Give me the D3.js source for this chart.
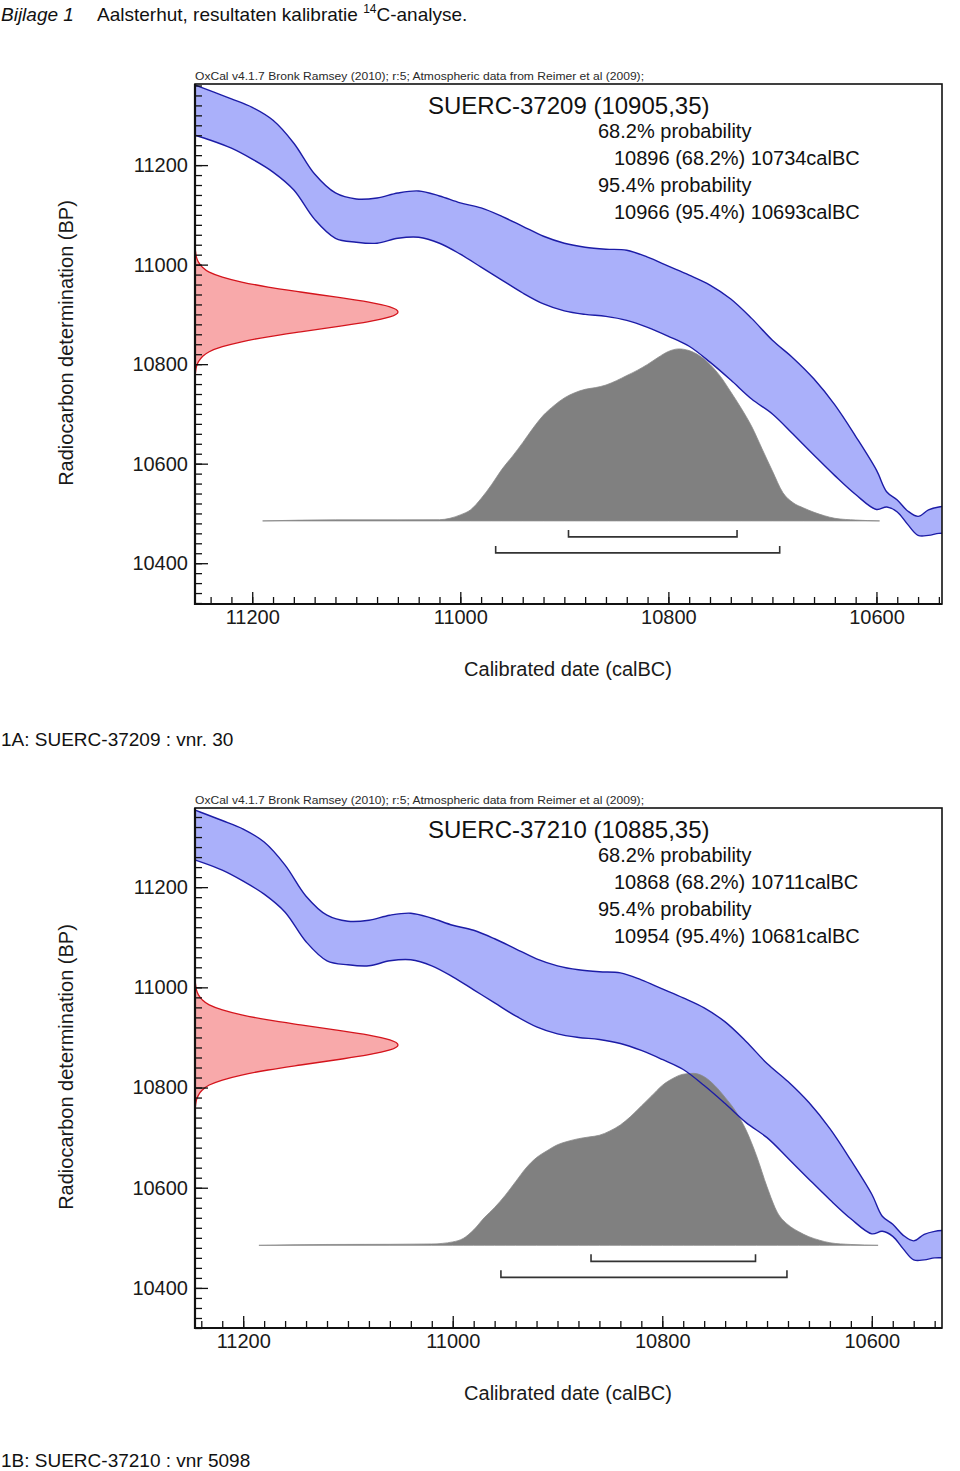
<!DOCTYPE html>
<html><head><meta charset="utf-8">
<script src="https://cdn.jsdelivr.net/npm/d3@7"></script>
<style>
body{margin:0;background:#fff}
svg{display:block}
text{font-family:"Liberation Sans",Arial,Helvetica,sans-serif}
</style>
</head><body><svg id="c" width="960" height="1471"></svg>
<script>
// ---------- DATA ----------
// IntCal09 calibration curve band (calBC, upper / lower BP edge)
const curveCalBC = [11255,11240,11220,11200,11180,11160,11140,11120,11100,11080,11060,11040,11020,11000,10980,10960,10940,10920,10900,10880,10860,10840,10820,10800,10780,10760,10740,10720,10700,10680,10660,10640,10620,10600,10590,10580,10570,10560,10550,10540,10530];
const curveUpperBP = [11361,11349,11333,11316,11290,11244,11182,11144,11132,11134,11144,11148,11138,11124,11114,11097,11077,11057,11043,11035,11031,11029,11015,10997,10979,10959,10931,10892,10848,10812,10770,10718,10655,10587,10543,10527,10505,10494,10507,10513,10515];
const curveLowerBP = [11260,11250,11234,11212,11186,11150,11091,11053,11045,11043,11053,11055,11043,11021,10995,10969,10943,10921,10907,10900,10896,10888,10874,10856,10836,10804,10768,10730,10700,10659,10617,10576,10538,10508,10513,10503,10478,10456,10456,10460,10460];

// Radiocarbon measurement (red) : offset from mean (BP) and relative density
const redOffset  = [-130,-120,-110,-100,-90,-80,-70,-60,-50,-40,-30,-20,-10,0,10,20,30,40,50,60,70,80,90,100,110,120,130];
const redDensity = [0,0.003,0.007,0.017,0.036,0.07,0.135,0.23,0.36,0.52,0.69,0.85,0.96,1,0.96,0.85,0.69,0.52,0.36,0.23,0.135,0.07,0.036,0.017,0.007,0.003,0];

// Calibrated distribution SUERC-37209
const cal1Years = [11190,11120,11060,11020,11010,11000,10990,10980,10970,10960,10950,10940,10930,10920,10910,10900,10890,10880,10870,10860,10850,10840,10830,10820,10810,10800,10790,10780,10770,10760,10750,10740,10730,10720,10710,10700,10690,10680,10670,10660,10650,10640,10620,10597];
const cal1Prob  = [0,0.006,0.006,0.007,0.015,0.035,0.065,0.13,0.21,0.30,0.375,0.455,0.54,0.615,0.67,0.715,0.745,0.765,0.775,0.79,0.815,0.845,0.875,0.91,0.95,0.985,1,0.99,0.96,0.91,0.84,0.75,0.655,0.55,0.42,0.29,0.165,0.105,0.075,0.05,0.03,0.015,0.005,0];
// Calibrated distribution SUERC-37210
const cal2Years = [11185,11120,11060,11020,11000,10990,10980,10970,10960,10950,10940,10930,10920,10910,10900,10890,10880,10870,10860,10850,10840,10830,10820,10810,10800,10790,10780,10770,10760,10750,10740,10730,10720,10710,10700,10690,10680,10670,10660,10650,10640,10620,10594];
const cal2Prob  = [0,0.005,0.006,0.008,0.02,0.04,0.09,0.16,0.22,0.29,0.37,0.45,0.51,0.55,0.585,0.605,0.62,0.63,0.64,0.665,0.70,0.75,0.81,0.87,0.93,0.97,0.995,1,0.98,0.93,0.86,0.78,0.67,0.52,0.34,0.19,0.12,0.08,0.05,0.03,0.015,0.005,0];

// Samples
const sampleNames = ["SUERC-37209","SUERC-37210"];
const sampleBP    = [10905,10885];
const sampleErr   = [35,35];
const range68     = [[10896,10734],[10868,10711]];
const range95     = [[10966,10693],[10954,10681]];
const captions    = ["1A: SUERC-37209 : vnr. 30","1B: SUERC-37210 : vnr 5098"];

// Axis ticks
const yTickValues = [10400,10600,10800,11000,11200];
const xTickValues = [11200,11000,10800,10600];

const oxcalNote = "OxCal v4.1.7 Bronk Ramsey (2010); r:5; Atmospheric data from Reimer et al (2009);";

// ---------- DRAW ----------
const svg = d3.select("#c");

const hdr = svg.append("text").attr("x",1).attr("y",21).attr("font-size",19).attr("fill","#111");
hdr.append("tspan").attr("font-style","italic").text("Bijlage 1");
hdr.append("tspan").attr("x",97).text("Aalsterhut, resultaten kalibratie ");
hdr.append("tspan").attr("font-size",12).attr("dy",-8).text("14");
hdr.append("tspan").attr("dy",8).text("C-analyse.");

function drawChart(i, top, xDomain, yDomain, calYears, calProb, capY) {
  const L = 195, R = 942, T = top, B = top + 520;
  const x = d3.scaleLinear().domain(xDomain).range([L, R]);
  const y = d3.scaleLinear().domain(yDomain).range([B, T]);
  const g = svg.append("g");

  const clipId = "clip" + i;
  svg.append("clipPath").attr("id", clipId).append("rect")
    .attr("x", L).attr("y", T).attr("width", R - L).attr("height", B - T);
  const plot = g.append("g").attr("clip-path", `url(#${clipId})`);

  g.append("text").attr("x", L).attr("y", T - 4).attr("font-size", 11.5).attr("fill", "#2a2a2a")
    .attr("textLength", 449).attr("lengthAdjust", "spacingAndGlyphs").text(oxcalNote);

  // calibration band
  const band = curveCalBC.map((c, k) => ({c, hi: curveUpperBP[k], lo: curveLowerBP[k]}));
  const cv = d3.curveCatmullRom.alpha(0.5);
  plot.append("path").datum(band)
    .attr("d", d3.area().x(d => x(d.c)).y0(d => y(d.lo)).y1(d => y(d.hi)).curve(cv))
    .attr("fill", "#aab0fa");

  // calibrated distribution
  const baseBP = 10485;
  const yBase = y(baseBP);
  const pScale = d3.scaleLinear().domain([0, 1]).range([yBase, yBase - 172]);
  const dist = calYears.map((c, k) => ({c, p: calProb[k]}));
  plot.append("path").datum(dist)
    .attr("d", d3.area().x(d => x(d.c)).y0(yBase).y1(d => pScale(d.p)).curve(d3.curveMonotoneX))
    .attr("fill", "#808080").attr("stroke", "#8a8a8a").attr("stroke-width", 0.8);

  // band edges
  ["hi", "lo"].forEach(k => {
    plot.append("path").datum(band)
      .attr("d", d3.line().x(d => x(d.c)).y(d => y(d[k])).curve(cv))
      .attr("fill", "none").attr("stroke", "#1c1ca6").attr("stroke-width", 1.4);
  });

  // radiocarbon measurement
  const wScale = d3.scaleLinear().domain([0, 1]).range([L, 398]);
  const red = redOffset.map((o, k) => ({bp: sampleBP[i] + o, p: redDensity[k]}));
  plot.append("path").datum(red)
    .attr("d", d3.area().y(d => y(d.bp)).x0(L).x1(d => wScale(d.p)).curve(d3.curveMonotoneY))
    .attr("fill", "#f8a9aa").attr("stroke", "none");
  plot.append("path").datum(red)
    .attr("d", d3.line().y(d => y(d.bp)).x(d => wScale(d.p)).curve(d3.curveMonotoneY))
    .attr("fill", "none").attr("stroke", "#d4141c").attr("stroke-width", 1.3);

  // range brackets
  [[range68[i], 16], [range95[i], 32]].forEach(([r, off]) => {
    const yb = yBase + off;
    g.append("path")
      .attr("d", `M${x(r[0])},${yb - 7}V${yb}H${x(r[1])}V${yb - 7}`)
      .attr("fill", "none").attr("stroke", "#333").attr("stroke-width", 1.6);
  });

  // axes
  const yMinor = d3.range(10320, 11361, 20).filter(v => v >= yDomain[0] && v <= yDomain[1]);
  const xMinor = d3.range(10540, 11261, 20).filter(v => v <= xDomain[0] && v >= xDomain[1]);
  const yAx = g.append("g").attr("transform", `translate(${L},0)`);
  yAx.append("g").call(d3.axisLeft(y).tickValues(yMinor).tickSize(-7).tickFormat(""));
  yAx.append("g").call(d3.axisLeft(y).tickValues(yTickValues).tickSize(-13).tickPadding(7).tickFormat(d3.format("d")));
  const xAx = g.append("g").attr("transform", `translate(0,${B})`);
  xAx.append("g").call(d3.axisBottom(x).tickValues(xMinor).tickSize(-7).tickFormat(""));
  xAx.append("g").call(d3.axisBottom(x).tickValues(xTickValues).tickSize(-12).tickPadding(6).tickFormat(d3.format("d")));
  g.selectAll(".domain").remove();
  g.selectAll(".tick line").attr("stroke", "#111").attr("stroke-width", 1.3);
  g.selectAll(".tick text").attr("font-size", 20).attr("fill", "#1a1a1a")
    .attr("font-family", '"Liberation Sans",Arial,sans-serif');

  // frame
  g.append("rect").attr("x", L).attr("y", T).attr("width", R - L).attr("height", B - T)
    .attr("fill", "none").attr("stroke", "#111").attr("stroke-width", 1.6);
  g.append("path").attr("d", `M${L},${T}V${B}H${R}`).attr("fill", "none").attr("stroke", "#111").attr("stroke-width", 2.2);

  // axis titles
  g.append("text").attr("transform", `translate(73,${T + 259}) rotate(-90)`)
    .attr("text-anchor", "middle").attr("font-size", 20).attr("fill", "#1a1a1a")
    .text("Radiocarbon determination (BP)");
  g.append("text").attr("x", 568).attr("y", B + 72).attr("text-anchor", "middle")
    .attr("font-size", 20).attr("fill", "#1a1a1a").text("Calibrated date (calBC)");

  // result texts
  g.append("text").attr("x", 428).attr("y", T + 30).attr("font-size", 24).attr("fill", "#111")
    .text(`${sampleNames[i]} (${sampleBP[i]},${sampleErr[i]})`);
  const lines = [
    [598, 54, "68.2% probability"],
    [614, 81, `${range68[i][0]} (68.2%) ${range68[i][1]}calBC`],
    [598, 108, "95.4% probability"],
    [614, 135, `${range95[i][0]} (95.4%) ${range95[i][1]}calBC`]
  ];
  lines.forEach(([lx, dy, t]) => {
    g.append("text").attr("x", lx).attr("y", T + dy).attr("font-size", 20).attr("fill", "#111").text(t);
  });

  // caption
  svg.append("text").attr("x", 1).attr("y", capY).attr("font-size", 19).attr("fill", "#111").text(captions[i]);
}

drawChart(0, 84, [11255, 10537], [10318, 11363], cal1Years, cal1Prob, 746);
drawChart(1, 808, [11246, 10533], [10320, 11358], cal2Years, cal2Prob, 1467);
</script>
</body></html>
